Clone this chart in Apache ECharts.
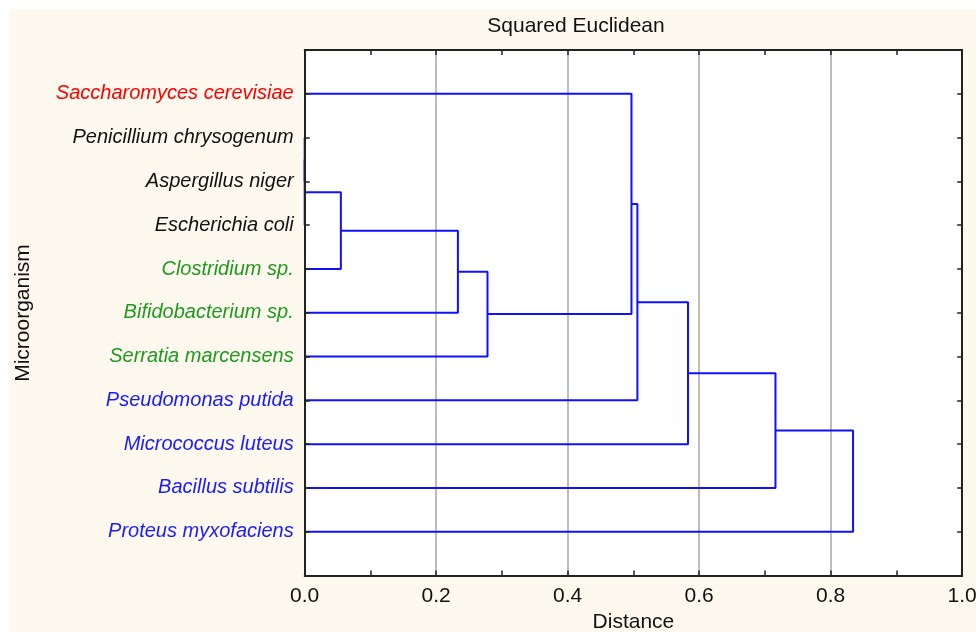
<!DOCTYPE html>
<html>
<head>
<meta charset="utf-8">
<title>Squared Euclidean</title>
<script src="https://cdn.jsdelivr.net/npm/echarts@6.0.0/dist/echarts.min.js"></script>
<style>
  html, body { margin: 0; padding: 0; background: #fff; }
  #wrap { position: relative; width: 976px; height: 632px; }
  #bg { position: absolute; left: 9px; top: 9px; right: 0; bottom: 0; background: #fdf9ee; }
  #main { position: absolute; left: 0; top: 0; width: 976px; height: 632px; }
</style>
</head>
<body>
<div id="wrap">
  <div id="bg"></div>
  <div id="main"></div>
</div>
<script>
// leaves, top to bottom
const leaves = ['Saccharomyces cerevisiae', 'Penicillium chrysogenum', 'Aspergillus niger', 'Escherichia coli',
  'Clostridium sp.', 'Bifidobacterium sp.', 'Serratia marcensens', 'Pseudomonas putida',
  'Micrococcus luteus', 'Bacillus subtilis', 'Proteus myxofaciens'];
const leafColors = ['#ff0000', '#111111', '#111111', '#111111', '#1f9a1f', '#1f9a1f', '#1f9a1f',
  '#1a1aff', '#1a1aff', '#1a1aff', '#1a1aff'];

// linkage: node ids 0..10 are leaves, merge k creates node 11+k
const mergeA = [1, 11, 12, 13, 14, 0, 16, 17, 18, 19];
const mergeB = [2, 3, 4, 5, 6, 15, 7, 8, 9, 10];
const mergeDist = [0, 0, 0.055, 0.233, 0.278, 0.497, 0.506, 0.583, 0.716, 0.834];

const xTicks = [0, 0.2, 0.4, 0.6, 0.8, 1.0];

const FONT = "'Liberation Sans', Arial, sans-serif";

// position of every node: y = leaf slot (1..11), x = merge height
let nodeY = leaves.map((d, i) => i + 1);
let nodeX = leaves.map(() => 0);
let links = [];
mergeDist.forEach((h, k) => {
  const a = mergeA[k], b = mergeB[k];
  links.push([[nodeX[a], nodeY[a]], [h, nodeY[a]], [h, nodeY[b]], [nodeX[b], nodeY[b]]]);
  nodeY.push((nodeY[a] + nodeY[b]) / 2);
  nodeX.push(h);
});

const rich = {};
leafColors.forEach((c, i) => {
  rich['c' + i] = { color: c, fontSize: 20, fontStyle: 'italic', fontFamily: FONT };
});

// fresh style objects for each axis
function axisLine() {
  return { show: true, onZero: false, lineStyle: { color: '#222', width: 2 } };
}
function tick() {
  return { show: true, inside: true, length: 5, lineStyle: { color: '#222', width: 1.5 } };
}
function minorTick() {
  return { show: true, splitNumber: 2, length: 5, lineStyle: { color: '#222', width: 1.5 } };
}

const option = {
  backgroundColor: 'transparent',
  animation: false,
  grid: {
    left: 304.7, right: 13.8, top: 50, bottom: 56.5, outerBoundsMode: 'none',
    show: true, backgroundColor: '#fff', borderWidth: 0
  },
  graphic: [
    { type: 'text', x: 576, y: 26,
      style: { text: 'Squared Euclidean', align: 'center', verticalAlign: 'middle',
        fill: '#111', font: '21px ' + FONT } },
    { type: 'text', x: 23, y: 313, rotation: Math.PI / 2,
      style: { text: 'Microorganism', align: 'center', verticalAlign: 'middle', fill: '#111', font: '21px ' + FONT } }
  ],
  xAxis: [{
    type: 'value', min: xTicks[0], max: xTicks[xTicks.length - 1], interval: 0.2, position: 'bottom',
    name: 'Distance', nameLocation: 'middle', nameGap: 33,
    nameTextStyle: { color: '#111', fontSize: 21, fontFamily: FONT },
    axisLine: axisLine(), axisTick: tick(), minorTick: minorTick(),
    splitLine: { show: true, lineStyle: { color: '#bdbdbd', width: 2 } },
    axisLabel: { color: '#111', fontSize: 21, fontFamily: FONT, margin: 10, formatter: v => v.toFixed(1) }
  }, {
    type: 'value', min: 0, max: 1, interval: 0.2, position: 'top',
    axisLine: axisLine(), axisTick: tick(), minorTick: minorTick(),
    splitLine: { show: false }, axisLabel: { show: false }
  }],
  yAxis: [{
    type: 'value', min: 0, max: leaves.length + 1, interval: 1, inverse: true, position: 'left', z: 10,
    axisLine: axisLine(), axisTick: tick(), splitLine: { show: false },
    axisLabel: {
      margin: 11,
      formatter: v => (v >= 1 && v <= leaves.length) ? '{c' + (v - 1) + '|' + leaves[v - 1] + '}' : '',
      rich: rich
    }
  }, {
    type: 'value', min: 0, max: leaves.length + 1, interval: 1, inverse: true, position: 'right',
    axisLine: axisLine(), axisTick: tick(), splitLine: { show: false }, axisLabel: { show: false }
  }],
  series: links.map(pts => ({
    type: 'line', data: pts, showSymbol: false, symbol: 'none', z: 2,
    lineStyle: { color: '#1010ff', width: 2 }
  }))
};

let myChart = echarts.init(document.getElementById('main'));
myChart.setOption(option);
window.addEventListener('resize', function () {
  myChart.resize();
});
</script>
</body>
</html>
